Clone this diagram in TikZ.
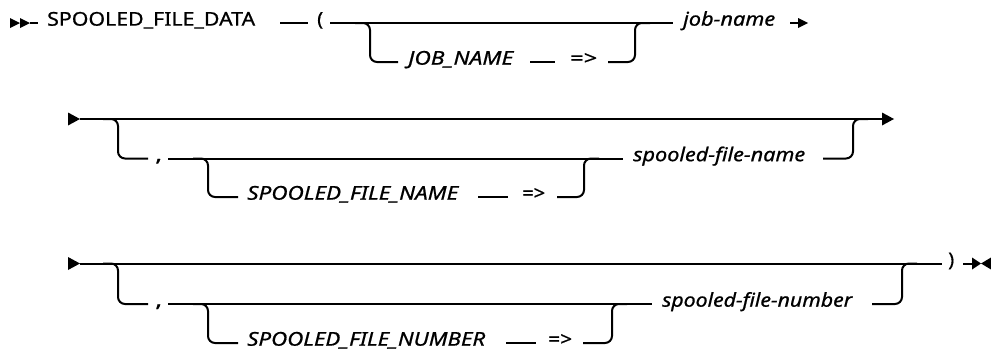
\documentclass[tikz,border=0pt]{standalone}
\usepackage{fontspec}
\usepackage{graphicx}
\setmainfont{Noto Sans}[FakeBold=0.7]
\newcommand{\fitw}[2]{\resizebox{#1pt}{\height}{#2}}
\begin{document}
\begin{tikzpicture}[x=1pt,y=-1pt,
  rail/.style={draw=black,line width=2pt,rounded corners=7pt},
  seg/.style={draw=black,line width=2pt},
  kw/.style={anchor=mid west,inner sep=0pt,font=\fontsize{19}{21}\selectfont},
  var/.style={anchor=mid west,inner sep=0pt,font=\fontsize{19}{21}\selectfont\itshape},
  tipfill/.style={fill=black}]
\useasboundingbox (0,0) rectangle (991,354);
% ---------- row 1 ----------
\coordinate (s1) at (10,23);
\coordinate (s2) at (20,23);
\coordinate (h1) at (30,23);
\coordinate (h2) at (38,23);
\fill[tipfill] (s1) ++(0,-5) -- ++(10,5) -- ++(-10,5) -- cycle;
\fill[tipfill] (s2) ++(0,-5) -- ++(10,5) -- ++(-10,5) -- cycle;
\draw[seg] (h1) -- (h2);
\node[kw] (kdata) at (47,23) {\fitw{208}{SPOOLED\_FILE\_DATA}};
\coordinate (d1a) at (280,23); \coordinate (d1b) at (308,23);
\draw[seg] (d1a) -- (d1b);
\node[kw] (lpar) at (317,23) {\fitw{6}{(}};
\coordinate (m1a) at (330,23); \coordinate (m1b) at (673,23);
\draw[seg] (m1a) -- (m1b);
\coordinate (b1a) at (355,23); \coordinate (b1c) at (370,23);
\coordinate (b1d) at (370,62); \coordinate (b1e) at (398,62);
\draw[rail] (b1a) -- (b1c) -- (b1d) -- (b1e);
\node[var] (kjob) at (408,62) {\fitw{105}{JOB\_NAME}};
\coordinate (d2a) at (530,62); \coordinate (d2b) at (555,62);
\draw[seg] (d2a) -- (d2b);
\node[kw] (arr1) at (570,62) {\fitw{27}{=>}};
\coordinate (r1a) at (608,62); \coordinate (r1b) at (635,62);
\coordinate (r1c) at (635,23); \coordinate (r1d) at (650,23);
\draw[rail] (r1a) -- (r1b) -- (r1c) -- (r1d);
\node[var] (vjob) at (683,23) {\fitw{92}{job-name}};
\coordinate (e1a) at (790,23); \coordinate (e1b) at (798,23);
\draw[seg] (e1a) -- (e1b);
\fill[tipfill] (e1b) ++(0,-5) -- ++(10,5) -- ++(-10,5) -- cycle;
% ---------- row 2 ----------
\coordinate (t2) at (68,119);
\fill[tipfill] (t2) ++(0,-6.5) -- ++(12,6.5) -- ++(-12,6.5) -- cycle;
\coordinate (m2a) at (80,119); \coordinate (m2b) at (882,119);
\draw[seg] (m2a) -- (m2b);
\fill[tipfill] (m2b) ++(0,-6.5) -- ++(12,6.5) -- ++(-12,6.5) -- cycle;
\coordinate (b2a) at (103,119); \coordinate (b2b) at (118,119);
\coordinate (b2c) at (118,158.5); \coordinate (b2d) at (148,158.5);
\draw[rail] (b2a) -- (b2b) -- (b2c) -- (b2d);
\node[kw] (comma2) at (155,158.5) {\fitw{7}{,}};
\coordinate (i2a) at (168,158.5); \coordinate (i2b) at (623,158.5);
\draw[seg] (i2a) -- (i2b);
\coordinate (c2a) at (193,158.5); \coordinate (c2b) at (208,158.5);
\coordinate (c2c) at (208,197); \coordinate (c2d) at (238,197);
\draw[rail] (c2a) -- (c2b) -- (c2c) -- (c2d);
\node[var] (kname) at (247,197) {\fitw{211}{SPOOLED\_FILE\_NAME}};
\coordinate (d3a) at (478,197); \coordinate (d3b) at (508,197);
\draw[seg] (d3a) -- (d3b);
\node[kw] (arr2) at (522,197) {\fitw{23}{=>}};
\coordinate (r2a) at (557,197); \coordinate (r2b) at (584,197);
\coordinate (r2c) at (584,158.5); \coordinate (r2d) at (599,158.5);
\draw[rail] (r2a) -- (r2b) -- (r2c) -- (r2d);
\node[var] (vname) at (633,158.5) {\fitw{172}{spooled-file-name}};
\coordinate (q2a) at (823,158.5); \coordinate (q2b) at (853,158.5);
\coordinate (q2c) at (853,119); \coordinate (q2d) at (868,119);
\draw[rail] (q2a) -- (q2b) -- (q2c) -- (q2d);
% ---------- row 3 ----------
\coordinate (t3) at (68,263.5);
\fill[tipfill] (t3) ++(0,-6.5) -- ++(12,6.5) -- ++(-12,6.5) -- cycle;
\coordinate (m3a) at (80,263.5); \coordinate (m3b) at (942,263.5);
\draw[seg] (m3a) -- (m3b);
\coordinate (b3a) at (103,263.5); \coordinate (b3b) at (118,263.5);
\coordinate (b3c) at (118,304); \coordinate (b3d) at (148,304);
\draw[rail] (b3a) -- (b3b) -- (b3c) -- (b3d);
\node[kw] (comma3) at (155,304) {\fitw{7}{,}};
\coordinate (i3a) at (168,304); \coordinate (i3b) at (652,304);
\draw[seg] (i3a) -- (i3b);
\coordinate (c3a) at (193,304); \coordinate (c3b) at (208,304);
\coordinate (c3c) at (208,343); \coordinate (c3d) at (238,343);
\draw[rail] (c3a) -- (c3b) -- (c3c) -- (c3d);
\node[var] (knum) at (247,343) {\fitw{238}{SPOOLED\_FILE\_NUMBER}};
\coordinate (d4a) at (506,343); \coordinate (d4b) at (536,343);
\draw[seg] (d4a) -- (d4b);
\node[kw] (arr3) at (548,343) {\fitw{24}{=>}};
\coordinate (r3a) at (583,343); \coordinate (r3b) at (612,343);
\coordinate (r3c) at (612,304); \coordinate (r3d) at (627,304);
\draw[rail] (r3a) -- (r3b) -- (r3c) -- (r3d);
\node[var] (vnum) at (662,304) {\fitw{190}{spooled-file-number}};
\coordinate (q3a) at (872,304); \coordinate (q3b) at (902,304);
\coordinate (q3c) at (902,263.5); \coordinate (q3d) at (917,263.5);
\draw[rail] (q3a) -- (q3b) -- (q3c) -- (q3d);
\node[kw] (rpar) at (948,263.5) {\fitw{6}{)}};
\coordinate (f3a) at (963,263.5); \coordinate (f3b) at (972,263.5);
\coordinate (f3c) at (981,263.5);
\draw[seg] (f3a) -- (f3b);
\fill[tipfill] (f3b) ++(0,-6) -- ++(9,6) -- ++(-9,6) -- cycle;
\fill[tipfill] (991,257.5) -- (f3c) -- (991,269.5) -- cycle;
\end{tikzpicture}
\end{document}
